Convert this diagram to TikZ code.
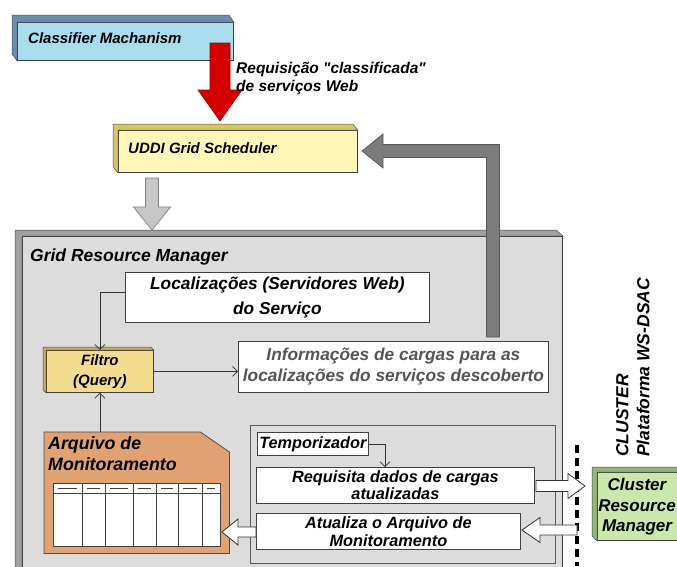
\documentclass[tikz,border=0pt]{standalone}
\usepackage{fontspec}
\setmainfont{Liberation Sans}
\usetikzlibrary{arrows.meta,calc}
\definecolor{clsblue}{HTML}{A8DDEE}
\definecolor{clsbev}{HTML}{6A8CB0}
\definecolor{uddiy}{HTML}{FFF7B8}
\definecolor{uddibev}{HTML}{D8C462}
\definecolor{filtroy}{HTML}{F4DC8E}
\definecolor{filtrobev}{HTML}{C8AE5A}
\definecolor{arqor}{HTML}{E0A272}
\definecolor{clgreen}{HTML}{CBE8AC}
\definecolor{clbev}{HTML}{94B676}
\definecolor{grmfill}{HTML}{DCDCDC}
\definecolor{grmbev}{HTML}{A0A0A0}
\definecolor{redarr}{HTML}{D40000}
\definecolor{elbowgray}{HTML}{7C7C7C}
\definecolor{infogray}{HTML}{555555}
\newcommand\bevelfaces[4]{%
  \filldraw[fill=#4, draw=black!70, line width=0.5pt] (#1.south west) -- ++(#2,#3) -- ($(#1.north west)+(#2,#3)$) -- ($(#1.north east)+(#2,#3)$) -- (#1.north east) -- (#1.north west) -- cycle;}
\newcommand\hblockarrow[6]{%
  \draw[#1] ($(#2)+(0,{-(#4)})$) -- ($(#3)+({-(#6)},{-(#4)})$) -- ($(#3)+({-(#6)},{-(#5)})$) -- (#3) -- ($(#3)+({-(#6)},{#5})$) -- ($(#3)+({-(#6)},{#4})$) -- ($(#2)+(0,{#4})$) -- cycle;}
\newcommand\vblockarrow[6]{%
  \draw[#1] ($(#2)+({-(#4)},0)$) -- ($(#3)+({-(#4)},{-(#6)})$) -- ($(#3)+({-(#5)},{-(#6)})$) -- (#3) -- ($(#3)+({#5},{-(#6)})$) -- ($(#3)+({#4},{-(#6)})$) -- ($(#2)+({#4},0)$) -- cycle;}
\begin{document}
\begin{tikzpicture}[x=1pt,y=-1pt,
  lbl/.style 2 args={inner sep=0pt, font=\fontsize{#1}{#2}\selectfont\bfseries\itshape},
  face/.style={draw=black!75, line width=0.8pt, inner sep=0pt, anchor=north west},
  wbox/.style={face, fill=white},
  conn/.style={draw=black!80, line width=0.7pt, -{Straight Barb[length=5pt,width=10pt]}},
  whitearrow/.style={draw=black!80, fill=white, line width=0.8pt},
]
\useasboundingbox (0,0) rectangle (677,566);
\fill[white] (0,0) rectangle (677,566);

% Classifier
\node[face, fill=clsblue, minimum width=216pt, minimum height=38pt] (cls) at (17,22) {};
\bevelfaces{cls}{-5}{-7}{clsbev}
\node[lbl={15}{18}, anchor=west] (clstxt) at (28,38) {Classifier Machanism};

% UDDI
\node[face, fill=uddiy, minimum width=239pt, minimum height=42pt] (uddi) at (118,130) {};
\bevelfaces{uddi}{-5}{-6}{uddibev}
\node[lbl={15}{18}, anchor=west] (udditxt) at (128,148) {UDDI Grid Scheduler};

% red arrow
\coordinate (redS) at (220,43);
\coordinate (redT) at (220,121);
\vblockarrow{fill=redarr, draw=red!60!black, line width=0.6pt}{redS}{redT}{10}{22}{31}
\node[lbl={15.5}{18}, anchor=north west, align=left] (reqlbl) at (236,62) {Requisição \textquotedbl classificada\textquotedbl\\de serviços Web};

% gray down arrow
\coordinate (gS) at (152,178);
\coordinate (gT) at (152,230);
\vblockarrow{fill=black!22, draw=black!50, line width=0.7pt}{gS}{gT}{6.5}{18.5}{23}

% Grid Resource Manager
\node[face, fill=grmfill, draw=black!80, line width=1pt, minimum width=540pt, minimum height=340pt] (grm) at (22,236) {};
\bevelfaces{grm}{-7}{-6}{grmbev}
\node[lbl={17.5}{20}, anchor=west] (grmtxt) at (30,257) {Grid Resource Manager};

% elbow arrow
\coordinate (eB) at (493,337);
\coordinate (eT) at (362,151);
\filldraw[fill=elbowgray, draw=black!65, line width=0.7pt] ($(eB)+(-6.5,0)$) -- (486.5,157.5) -- (383,157.5) -- (383,168) -- (eT) -- (383,134) -- (383,144.5) -- (499.5,144.5) -- ($(eB)+(6.5,0)$) -- cycle;

% Localizacoes
\node[wbox, minimum width=304pt, minimum height=50pt, align=center, lbl={17.3}{25}] (loc) at (125,272) {Localizações (Servidores Web)\\do Serviço};

% Informacoes
\node[wbox, minimum width=310pt, minimum height=51pt, align=center, lbl={17.3}{21}, text=infogray] (info) at (238,341) {Informações de cargas para as\\localizações do serviços descoberto};

% Filtro
\node[face, fill=filtroy, minimum width=107pt, minimum height=42pt, align=center, lbl={15}{20}] (filtro) at (46,350) {Filtro\\(Query)};
\bevelfaces{filtro}{-3}{-3}{filtrobev}

% Arquivo
\node[anchor=north west, inner sep=0pt, minimum width=185pt, minimum height=121pt] (arq) at (44,432) {};
\filldraw[fill=arqor, draw=black!70, line width=0.8pt] (arq.north west) -- ($(arq.north east)+(-29,0)$) -- ($(arq.north east)+(0,20)$) -- (arq.south east) -- (arq.south west) -- cycle;
\node[lbl={17.8}{21}, anchor=north west, align=left] (arqtxt) at (48,436) {Arquivo de\\Monitoramento};
\node[anchor=north west, inner sep=0pt, minimum width=167pt, minimum height=63pt, draw=black!75, fill=white, line width=0.7pt] (tbl) at (53,483) {};
\draw[black!75, line width=0.7pt] (53,493) -- (220,493);
\foreach \xa/\xb in {53/82,82/105,105/133,133/156,156/178,178/202,202/220}{
  \draw[black!75, line width=0.7pt] (\xb,483) -- (\xb,546);
  \draw[black!75, line width=0.8pt] (\xa+5,488) -- (\xb-5,488);
}

% inner box
\node[face, fill=grmfill, draw=black!65, minimum width=305pt, minimum height=138pt] (inner) at (250,425) {};
\node[wbox, minimum width=111pt, minimum height=23pt, lbl={16.3}{17}] (temp) at (257,432) {Temporizador};
\node[wbox, minimum width=278pt, minimum height=36pt, align=center, lbl={16.3}{17}] (req) at (256,467) {Requisita dados de cargas\\atualizadas};
\node[wbox, minimum width=264pt, minimum height=36pt, align=center, lbl={16.3}{18}] (atu) at (256,513) {Atualiza o Arquivo de\\Monitoramento};

% connectors
\draw[conn] ($(loc.west)+(0,-5)$) -| (filtro.north);
\draw[conn] (filtro.east) -- (filtro.east -| info.west);
\draw[conn] (filtro.south |- arq.north) -- (filtro.south);
\coordinate (tdrop) at (385,467);
\draw[conn] (temp.east) -| (tdrop);

% dotted separator
\coordinate (dtop) at (577,445);
\coordinate (dbot) at (577,566);
\draw[line width=4pt, dash pattern=on 8pt off 5pt] (dtop) -- (dbot);

% Cluster
\node[face, fill=clgreen, minimum width=100pt, minimum height=68pt] (clu) at (597,472) {};
\bevelfaces{clu}{-5}{-5}{clbev}
\node[lbl={17}{20.5}, align=center] (clutxt) at (637,507) {Cluster\\Resource\\Manager};
\node[lbl={17.5}{21}, rotate=90, anchor=north west, align=left] (cltxt) at (616,457) {CLUSTER\\Plataforma WS-DSAC};

% white block arrows
\coordinate (w1S) at (536,486);
\coordinate (w1T) at (585,486);
\hblockarrow{whitearrow}{w1S}{w1T}{5.5}{12.5}{17}
\coordinate (w2S) at (577,530);
\coordinate (w2T) at (522,530);
\hblockarrow{whitearrow}{w2S}{w2T}{5}{12.5}{-18}
\coordinate (w3S) at (256,532);
\coordinate (w3T) at (222,532);
\hblockarrow{whitearrow}{w3S}{w3T}{5}{13}{-16}
\end{tikzpicture}
\end{document}
